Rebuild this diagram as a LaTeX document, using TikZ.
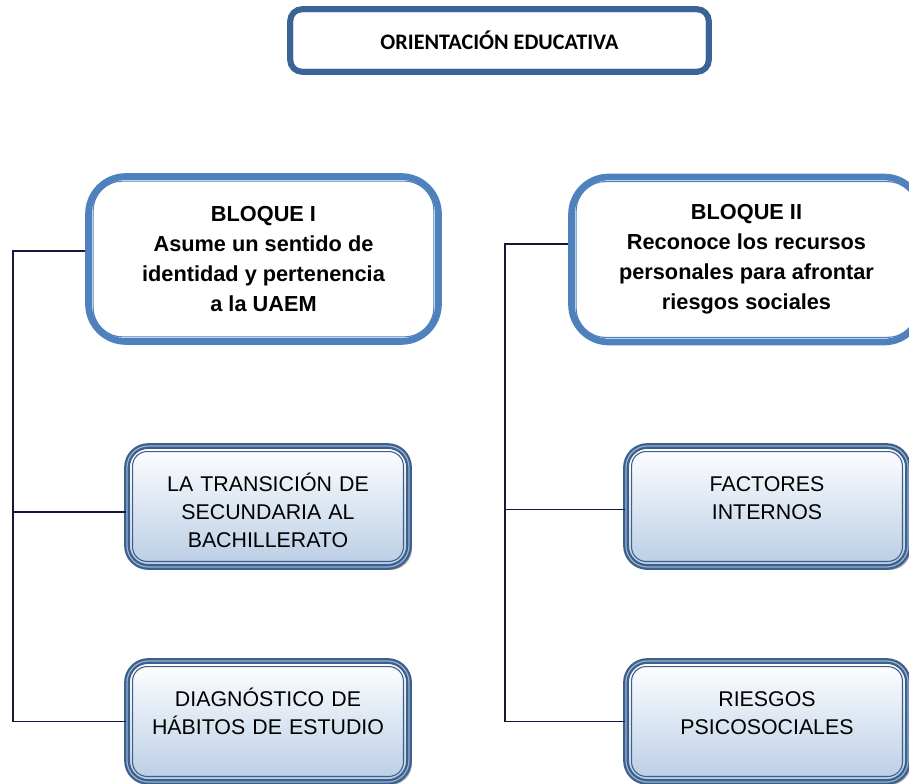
\documentclass[tikz,border=0pt]{standalone}
\usepackage{fontspec}
\setmainfont{Liberation Sans}
\newfontfamily\calibri{Carlito}
\usetikzlibrary{positioning,shadows}
\definecolor{titleblue}{RGB}{59,99,150}
\definecolor{bloqueblue}{RGB}{79,129,189}
\definecolor{temablue}{RGB}{62,95,138}
\definecolor{stripe}{RGB}{149,179,215}
\definecolor{temafill}{RGB}{185,205,229}
\definecolor{linecol}{RGB}{20,25,60}

\begin{document}
\begin{tikzpicture}[x=0.75pt, y=-0.75pt,
        titlebox/.style={rectangle, rounded corners=9pt, draw=titleblue, line width=4.5pt, fill=white, minimum width=314pt, minimum height=47pt, font=\calibri\bfseries\fontsize{16.6}{19}\selectfont},
        bloque/.style={rectangle, rounded corners=28pt, draw=bloqueblue, line width=5pt, fill=white, minimum width=262.5pt, minimum height=123.75pt, align=center, font=\bfseries\fontsize{16.3}{22.5}\selectfont},
        tema/.style={rectangle, rounded corners=16pt, draw=temablue, double=stripe, double distance=0.9pt, line width=1.7pt, top color=white, bottom color=temafill, drop shadow={shadow xshift=2.2pt, shadow yshift=-2.2pt, fill=black!70, opacity=0.5}, minimum width=211.5pt, minimum height=90.75pt},
        tematext/.style={anchor=base, text width=200pt, align=center, inner sep=0pt, font=\fontsize{16}{21}\selectfont},
        inset/.style={draw=#1, line width=0.8pt},
        conn/.style={draw=linecol, line width=1pt}
    ]
    \useasboundingbox (0,0) rectangle (909,784);

    % Title node
    \node[titlebox] (orient) at (499.5,40.5) {ORIENTACIÓN EDUCATIVA};

    % Bloques
    \node[bloque] (b1) at (263.5,259) {BLOQUE I\\Asume un sentido de\\identidad y pertenencia\\a la UAEM};
    \node[bloque] (b2) at (746.5,259.5) {BLOQUE II\\Reconoce los recursos\\personales para afrontar\\riesgos sociales};

    % Temas
    \node[tema] (trans) at (268,506.5) {};
    \node[tema] (diag) at (268,721.5) {};
    \node[tema] (fact) at (767,506.5) {};
    \node[tema] (ries) at (767,721.5) {};

    \node[tematext] (trans-t) at ([yshift=-35pt]trans.north) {LA TRANSICIÓN DE\\SECUNDARIA AL\\BACHILLERATO};
    \node[tematext] (diag-t) at ([yshift=-35pt]diag.north) {DIAGNÓSTICO DE\\HÁBITOS DE ESTUDIO};
    \node[tematext] (fact-t) at ([yshift=-35pt]fact.north) {FACTORES\\INTERNOS};
    \node[tematext] (ries-t) at ([yshift=-35pt]ries.north) {RIESGOS\\PSICOSOCIALES};

    % Inner lines
    \draw[inset=titleblue, rounded corners=5pt] ([shift={(4pt,-4pt)}]orient.north west) rectangle ([shift={(-4pt,4pt)}]orient.south east);
    \foreach \n in {b1,b2}
        \draw[inset=bloqueblue, rounded corners=22pt] ([shift={(6pt,-6pt)}]\n.north west) rectangle ([shift={(-6pt,6pt)}]\n.south east);
    \foreach \n in {trans,diag,fact,ries}
        \draw[inset=temablue, rounded corners=11pt] ([shift={(5pt,-5pt)}]\n.north west) rectangle ([shift={(-5pt,5pt)}]\n.south east);

    % Connect everything
    \coordinate (spineL) at (13,721.5);
    \coordinate (spineR) at (505,721.5);
    \draw[conn] ([yshift=6pt]b1.west) -| (spineL) |- (diag.west);
    \draw[conn] ([yshift=-4pt]trans.west) -| (spineL);
    \draw[conn] ([yshift=11.6pt]b2.west) -| (spineR) |- (ries.west);
    \draw[conn] ([yshift=-2pt]fact.west) -| (spineR);
\end{tikzpicture}
\end{document}
